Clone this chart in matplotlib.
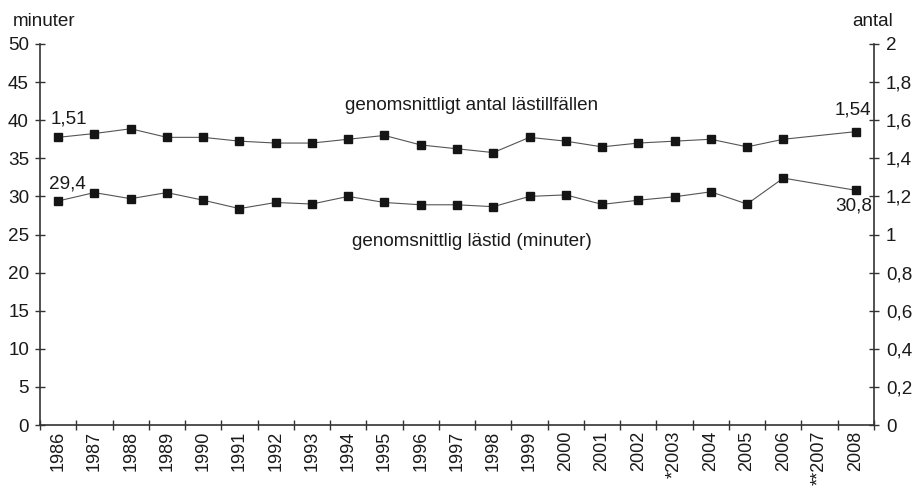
import matplotlib
matplotlib.use("Agg")
import matplotlib.pyplot as plt
import numpy as np

plt.rcParams['font.family'] = ['Liberation Sans', 'DejaVu Sans']

categories = ["1986", "1987", "1988", "1989", "1990", "1991", "1992", "1993", "1994",
              "1995", "1996", "1997", "1998", "1999", "2000", "2001", "2002", "*2003",
              "2004", "2005", "2006", "**2007", "2008"]
data_years = ["1986", "1987", "1988", "1989", "1990", "1991", "1992", "1993", "1994",
              "1995", "1996", "1997", "1998", "1999", "2000", "2001", "2002", "*2003",
              "2004", "2005", "2006", "2008"]
minutes = [29.4, 30.5, 29.7, 30.5, 29.5, 28.4, 29.2, 29.0, 30.0, 29.2, 28.9, 28.9,
           28.65, 30.0, 30.2, 28.95, 29.5, 29.95, 30.6, 29.0, 32.4, 30.8]
occasions = [1.51, 1.53, 1.555, 1.51, 1.51, 1.49, 1.48, 1.48, 1.50, 1.52, 1.47, 1.45,
             1.43, 1.51, 1.49, 1.46, 1.48, 1.49, 1.50, 1.46, 1.50, 1.54]
left_ticks = [0, 5, 10, 15, 20, 25, 30, 35, 40, 45, 50]
right_ticks = [0, 0.2, 0.4, 0.6, 0.8, 1.0, 1.2, 1.4, 1.6, 1.8, 2.0]
right_labels = ["0", "0,2", "0,4", "0,6", "0,8", "1", "1,2", "1,4", "1,6", "1,8", "2"]

W, H = 916, 488
fig = plt.figure(figsize=(W / 100, H / 100), dpi=100)
ax = fig.add_axes([40 / W, (H - 425) / H, 834 / W, 381 / H])
ax2 = ax.twinx()

xpos = np.array([categories.index(y) for y in data_years])
spine_c = "#333333"
txt_c = "#1a1a1a"
fs = 13.6
px = 0.72  # points per pixel

ax.plot(xpos, minutes, color="#555555", lw=0.8, marker="s", ms=5.4,
        mfc="#151515", mec="#151515", zorder=3)
ax2.plot(xpos, occasions, color="#555555", lw=0.8, marker="s", ms=5.4,
         mfc="#151515", mec="#151515", zorder=3)

ax.set_xlim(-0.5, len(categories) - 0.5)
ax.set_ylim(0, 50)
ax2.set_ylim(0, 2)

ax.set_yticks(left_ticks)
ax.set_yticklabels([str(t) for t in left_ticks], fontsize=fs, color=txt_c)
ax2.set_yticks(right_ticks)
ax2.set_yticklabels(right_labels, fontsize=fs, color=txt_c)

ax.set_xticks(np.arange(-0.5, len(categories), 1.0))
ax.set_xticklabels([])
ax.set_xticks(np.arange(len(categories)), minor=True)
ax.set_xticklabels(categories, minor=True, rotation=90, fontsize=13, color=txt_c)
ax.tick_params(axis="x", which="minor", length=0, pad=6 * px)
ax.tick_params(axis="x", which="major", direction="inout", length=10 * px, width=1, color=spine_c)
ax.tick_params(axis="y", direction="inout", length=10 * px, width=1, color=spine_c, pad=6 * px)
ax2.tick_params(axis="y", direction="inout", length=10 * px, width=1, color=spine_c, pad=7 * px)

for a in (ax, ax2):
    a.spines["top"].set_visible(False)
    for s in ("left", "right", "bottom"):
        a.spines[s].set_color(spine_c)
        a.spines[s].set_linewidth(1.2)
ax.spines["right"].set_visible(False)
ax2.spines["left"].set_visible(False)
ax2.spines["bottom"].set_visible(False)

# value annotations
ax2.annotate("1,51", (xpos[0], occasions[0]), xytext=(11 * px, 14 * px), textcoords="offset points",
             ha="center", va="baseline", fontsize=fs, color=txt_c)
ax.annotate("29,4", (xpos[0], minutes[0]), xytext=(9 * px, 12 * px), textcoords="offset points",
            ha="center", va="baseline", fontsize=fs, color=txt_c)
ax2.annotate("1,54", (xpos[-1], occasions[-1]), xytext=(-3 * px, 17 * px), textcoords="offset points",
             ha="center", va="baseline", fontsize=fs, color=txt_c)
ax.annotate("30,8", (xpos[-1], minutes[-1]), xytext=(-2 * px, -7 * px), textcoords="offset points",
            ha="center", va="top", fontsize=fs, color=txt_c)

fig.text(472 / W, 1 - 105 / H, "genomsnittligt antal lästillfällen", ha="center", va="center",
         fontsize=fs, color=txt_c)
fig.text(472 / W, 1 - 241 / H, "genomsnittlig lästid (minuter)", ha="center", va="center",
         fontsize=fs, color=txt_c)
fig.text(13 / W, 1 - 21 / H, "minuter", ha="left", va="center", fontsize=fs, color=txt_c)
fig.text(893 / W, 1 - 21 / H, "antal", ha="right", va="center", fontsize=fs, color=txt_c)

fig.savefig("out.png", dpi=100, facecolor="white")
